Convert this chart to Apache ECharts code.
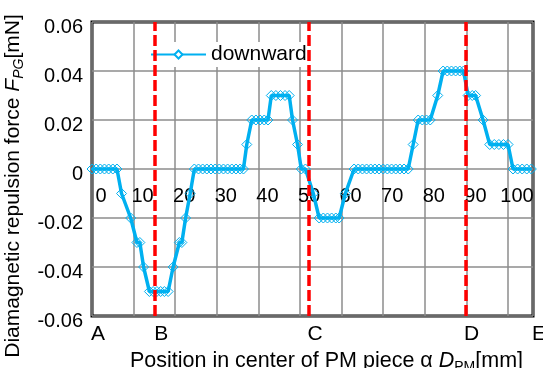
<!DOCTYPE html>
<html>
<head>
<meta charset="utf-8">
<script src="https://cdn.jsdelivr.net/npm/echarts@6/dist/echarts.min.js"></script>
<style>
html,body{margin:0;padding:0;background:#fff;}
#c{width:543px;height:368px;}
</style>
</head>
<body>
<div id="c"></div>
<script>
// Position in center of PM piece (mm)
const positions = [
  0, 1, 2, 3, 4, 5, 6,
  7.1, 9.3, 10.8, 11.5, 12.4,
  13.8, 14.7, 15.6, 16.5, 17.4, 18.3,
  19.5, 21.0, 21.6, 22.5, 23.6,
  24.6, 25.6, 26.6, 27.6, 28.6, 29.6, 30.6, 31.6, 32.6, 33.6, 34.6, 35.6, 36.4,
  37.2, 38.4, 39.4, 40.4, 41.4, 42.3,
  43.1, 44.2, 45.3, 46.4, 47.4,
  48.2, 49.4, 50.3, 51.3, 53.2,
  54.6, 55.6, 56.6, 57.6, 58.6, 59.4, 60.9,
  63, 64, 65, 66, 67, 68, 69, 70, 71, 72, 73, 74, 75, 76,
  77.2, 78.4, 79.4, 80.4, 81.3, 83.1,
  84.4, 85.4, 86.4, 87.4, 88.4, 89.3,
  90.4, 91.4, 92.2, 94.0,
  95.6, 96.7, 97.8, 98.9, 100.0,
  101.2, 102.3, 103.4, 104.5, 105.6
];
// Diamagnetic repulsion force (mN), downward
const downward = [
  0, 0, 0, 0, 0, 0, 0,
  -0.01, -0.02, -0.03, -0.03, -0.04,
  -0.05, -0.05, -0.05, -0.05, -0.05, -0.05,
  -0.04, -0.03, -0.03, -0.02, -0.01,
  0, 0, 0, 0, 0, 0, 0, 0, 0, 0, 0, 0, 0,
  0.01, 0.02, 0.02, 0.02, 0.02, 0.02,
  0.03, 0.03, 0.03, 0.03, 0.03,
  0.02, 0.01, 0, 0, -0.01,
  -0.02, -0.02, -0.02, -0.02, -0.02, -0.02, -0.01,
  0, 0, 0, 0, 0, 0, 0, 0, 0, 0, 0, 0, 0, 0,
  0.01, 0.02, 0.02, 0.02, 0.02, 0.03,
  0.04, 0.04, 0.04, 0.04, 0.04, 0.04,
  0.03, 0.03, 0.03, 0.02,
  0.01, 0.01, 0.01, 0.01, 0.01,
  0, 0, 0, 0, 0
];
// Reference positions A-E
const pointNames = ['A', 'B', 'C', 'D', 'E'];
const pointPos = [0, 15.2, 52.2, 89.8, 106];
const redLinePos = [15.2, 52.2, 89.8];
const xTickValues = [0, 10, 20, 30, 40, 50, 60, 70, 80, 90, 100];

const FONT = 'Liberation Sans';
const chart = echarts.init(document.getElementById('c'), null, {renderer: 'canvas'});
const data = positions.map((x, i) => [x, downward[i]]);

chart.setOption({
  animation: false,
  backgroundColor: '#fff',
  grid: {
    left: 92, right: 10, top: 22, bottom: 52,
    containLabel: false, outerBoundsMode: 'none',
    show: true, borderColor: '#000', borderWidth: 3, backgroundColor: 'transparent'
  },
  legend: {
    data: ['downward'],
    left: 150, top: 42,
    backgroundColor: '#fff',
    padding: [2, 3, 2, 0],
    itemWidth: 55, itemHeight: 10,
    textStyle: {fontFamily: FONT, fontSize: 21, color: '#000'},
    itemStyle: {color: '#fff'}
  },
  xAxis: [{
    type: 'value', min: 0, max: 106, interval: 10,
    position: 'bottom', offset: -147,
    axisLine: {show: false, onZero: false},
    axisTick: {show: false},
    splitLine: {show: true, lineStyle: {color: '#8c8c8c', width: 1.5}},
    axisLabel: {
      customValues: xTickValues,
      showMinLabel: true, showMaxLabel: true,
      margin: 17, padding: [0, 0, 0, 18],
      fontFamily: FONT, fontSize: 20, color: '#000'
    }
  }, {
    type: 'value', min: 0, max: 106, position: 'bottom',
    axisLine: {show: false, onZero: false},
    axisTick: {show: false},
    splitLine: {show: false},
    axisLabel: {
      customValues: pointPos,
      showMinLabel: true, showMaxLabel: true, hideOverlap: false,
      formatter: v => { const i = pointPos.indexOf(v); return i >= 0 ? pointNames[i] : ''; },
      margin: 8, padding: [0, 0, 0, 12],
      fontFamily: FONT, fontSize: 21, color: '#000'
    },
    name: '{t|Position in center of PM piece α }{i|D}{s|PM}{t|[mm]}',
    nameLocation: 'middle', nameGap: 30,
    nameTextStyle: {
      padding: [0, 0, 0, 28],
      rich: {
        t: {fontFamily: FONT, fontSize: 21.5, color: '#000', lineHeight: 26},
        i: {fontFamily: FONT, fontSize: 21.5, color: '#000', fontStyle: 'italic', lineHeight: 26},
        s: {fontFamily: FONT, fontSize: 14, color: '#000', verticalAlign: 'bottom', lineHeight: 14}
      }
    }
  }],
  yAxis: {
    type: 'value', min: -0.06, max: 0.06, interval: 0.02,
    axisLine: {show: false},
    axisTick: {show: false},
    splitLine: {show: true, lineStyle: {color: '#8c8c8c', width: 1.5}},
    axisLabel: {
      margin: 9, verticalAlign: 'top', lineHeight: 10,
      fontFamily: FONT, fontSize: 20, color: '#000',
      formatter: v => String(Number(v.toFixed(2)))
    },
    name: '{t|Diamagnetic repulsion force }{i|F}{s|PG}{t|[mN]}',
    nameLocation: 'middle', nameRotate: 90, nameGap: 57,
    nameTextStyle: {
      padding: [0, 34, 0, 0],
      rich: {
        t: {fontFamily: FONT, fontSize: 21, color: '#000', lineHeight: 26},
        i: {fontFamily: FONT, fontSize: 21, color: '#000', fontStyle: 'italic', lineHeight: 26},
        s: {fontFamily: FONT, fontSize: 14, color: '#000', fontStyle: 'italic', verticalAlign: 'bottom', lineHeight: 14}
      }
    }
  },
  series: [{
    name: 'downward',
    type: 'line',
    xAxisIndex: 0,
    data: data,
    symbol: 'diamond',
    symbolSize: 10,
    showAllSymbol: true,
    lineStyle: {color: '#00b0f0', width: 3.5},
    itemStyle: {color: 'rgba(255,255,255,0)', borderColor: '#00b0f0', borderWidth: 1},
    emphasis: {disabled: true},
    z: 3
  }, {
    name: 'refs',
    type: 'line',
    xAxisIndex: 0,
    data: [],
    z: 5,
    markLine: {
      silent: true,
      symbol: 'none',
      label: {show: false},
      lineStyle: {color: '#ff0000', width: 3.5, type: [11, 4]},
      data: redLinePos.map(v => ({xAxis: v}))
    }
  }]
});
</script>
</body>
</html>
